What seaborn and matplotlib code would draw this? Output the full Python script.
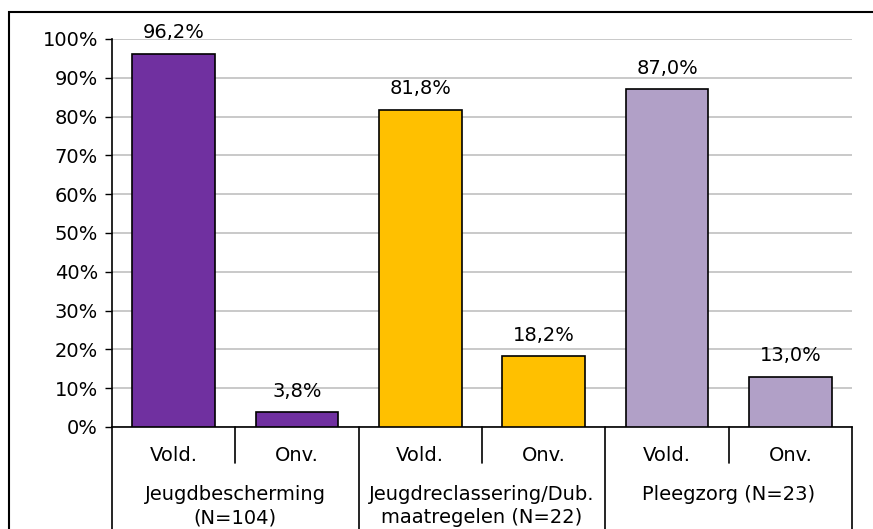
import matplotlib
matplotlib.use("Agg")
import matplotlib.pyplot as plt
import matplotlib.transforms as mtransforms
from matplotlib.patches import Rectangle
import pandas as pd
import seaborn as sns

# data
groups = ["Jeugdbescherming\n(N=104)", "Jeugdreclassering/Dub.\nmaatregelen (N=22)", "Pleegzorg (N=23)"]
subcats = ["Vold.", "Onv."]
values = [96.2, 3.8, 81.8, 18.2, 87.0, 13.0]
colors = ["#7030A0", "#7030A0", "#FFC000", "#FFC000", "#B1A0C7", "#B1A0C7"]
labels = ["96,2%", "3,8%", "81,8%", "18,2%", "87,0%", "13,0%"]

df = pd.DataFrame({
    "pos": [str(i) for i in range(len(values))],
    "value": [v / 100 for v in values],
})

sns.set_style("white")
plt.rcParams["font.family"] = ["DejaVu Sans"]
plt.rcParams["text.color"] = "black"
plt.rcParams["ytick.color"] = "black"
plt.rcParams["ytick.labelcolor"] = "black"
fs = 14

fig = plt.figure(figsize=(8.73, 5.29), dpi=100)
ax = fig.add_axes([112 / 873, 1 - 427 / 529, (852 - 112) / 873, (427 - 39) / 529])

sns.barplot(data=df, x="pos", y="value", hue="pos", palette=colors, legend=False,
            saturation=1, width=0.67, edgecolor="black", linewidth=1.2, ax=ax, zorder=3)

ax.set_xlim(-0.5, 5.5)
ax.set_ylim(0, 1)
ax.set_yticks([i / 10 for i in range(11)])
ax.set_yticklabels([f"{i * 10}%" for i in range(11)], fontsize=fs)
ax.tick_params(axis="y", direction="out", length=5, width=1, color="black", pad=5, left=True)
ax.yaxis.grid(True, color="#C0C0C0", linewidth=1.2, zorder=0)
ax.set_axisbelow(True)
ax.set_xticks([])
ax.set_xlabel("")
ax.set_ylabel("")
for s in ["top", "right"]:
    ax.spines[s].set_visible(False)
for s in ["left", "bottom"]:
    ax.spines[s].set_color("black")
    ax.spines[s].set_linewidth(1.2)

# value labels above bars
for i, (v, lab) in enumerate(zip(values, labels)):
    ax.text(i, v / 100 + 0.04, lab, ha="center", va="baseline", fontsize=fs)

# two-level category axis
trans = mtransforms.blended_transform_factory(ax.transData, ax.transAxes)
px = 388.0
short_y = -(463 - 427) / px
long_y = -(529 - 427) / px
for k in range(7):
    xk = k - 0.5
    y_end = long_y if k % 2 == 0 else short_y
    ax.plot([xk, xk], [0, y_end], color="black", linewidth=1.2, transform=trans, clip_on=False)

for i in range(len(values)):
    ax.text(i, -(461 - 427) / px, subcats[i % 2], ha="center", va="baseline",
            fontsize=fs, transform=trans)

for g, name in enumerate(groups):
    for j, line in enumerate(name.split("\n")):
        ax.text(2 * g + 0.5, -(500 + 23 * j - 427) / px, line, ha="center", va="baseline",
                fontsize=fs, transform=trans)

# outer chart border
fig.patches.append(Rectangle((9 / 873, -0.1), 1.2, 1 - 12 / 529 + 0.1, transform=fig.transFigure,
                             fill=False, edgecolor="black", linewidth=1.5))

fig.savefig("out.png", dpi=100)
